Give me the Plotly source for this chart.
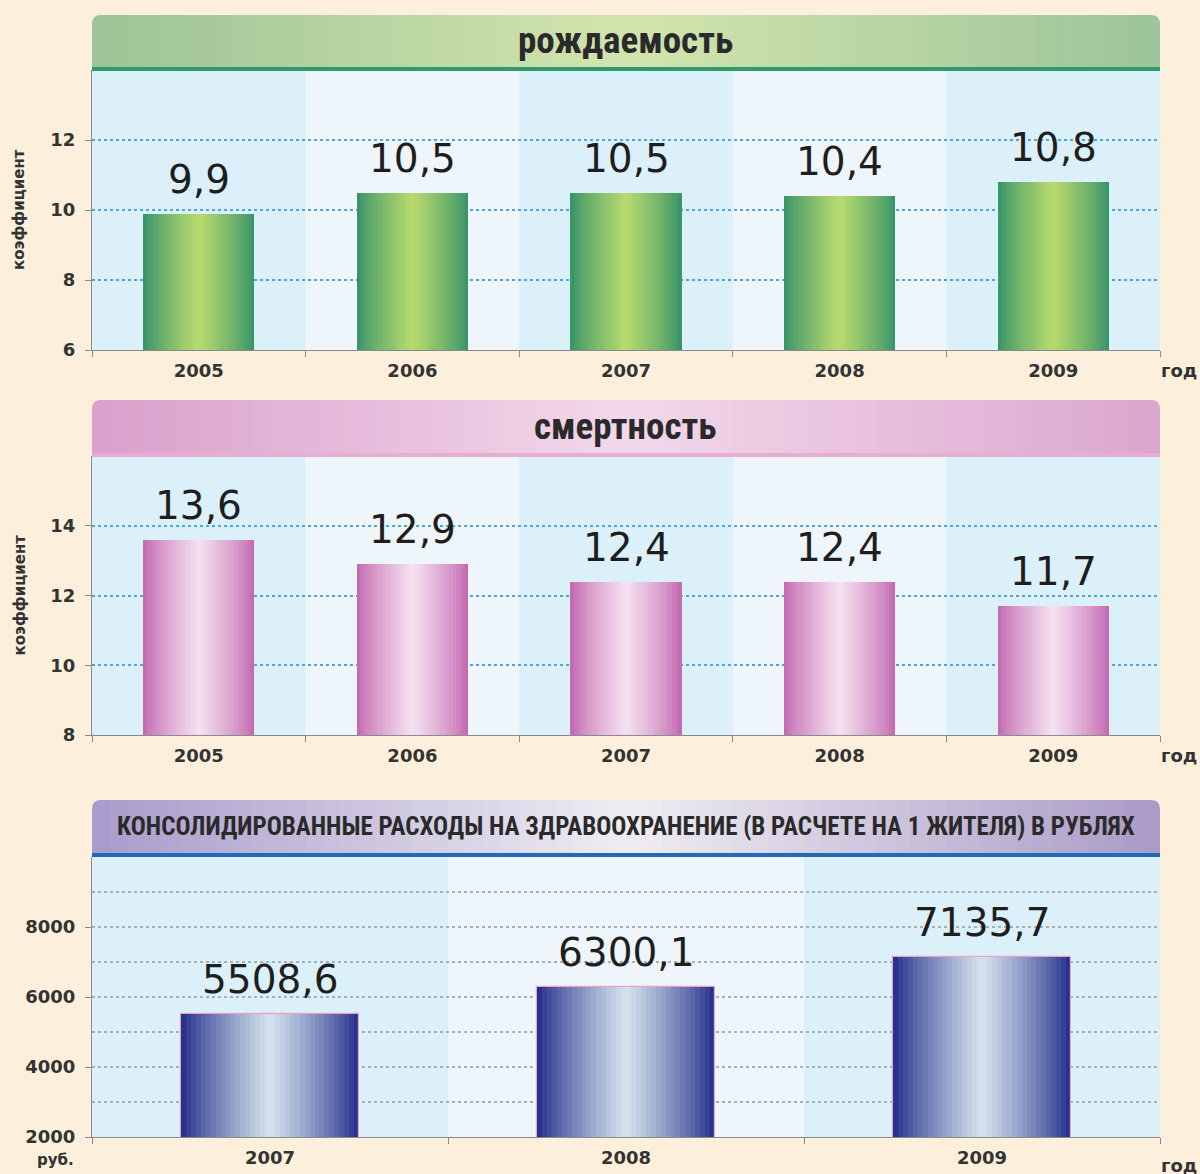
import plotly.graph_objects as go

# ---------------- data ----------------
birth_years = ["2005", "2006", "2007", "2008", "2009"]
birth_rate = [9.9, 10.5, 10.5, 10.4, 10.8]

death_years = ["2005", "2006", "2007", "2008", "2009"]
death_rate = [13.6, 12.9, 12.4, 12.4, 11.7]

spend_years = ["2007", "2008", "2009"]
spending = [5508.6, 6300.1, 7135.7]

titles = ["рождаемость", "смертность",
          "КОНСОЛИДИРОВАННЫЕ РАСХОДЫ НА ЗДРАВООХРАНЕНИЕ (В РАСЧЕТЕ НА 1 ЖИТЕЛЯ) В РУБЛЯХ"]
y_title = "коэффициент"
x_unit = "год"
y_unit3 = "руб."

# ---------------- helpers ----------------
W, H = 1200, 1174
FIG_H = 1184
BG = "#fcf0dc"


def px(x):
    return x / W


def py(y):
    return 1 - y / H


def hex2rgb(h):
    h = h.lstrip("#")
    return tuple(int(h[i:i + 2], 16) for i in (0, 2, 4))


def lerp(c1, c2, t):
    a, b = hex2rgb(c1), hex2rgb(c2)
    return "rgb(%d,%d,%d)" % tuple(round(a[i] + (b[i] - a[i]) * t) for i in range(3))


def fmt(v):
    return f"{v:.1f}".replace(".", ",")


fig = go.Figure()

PLOT_X0, PLOT_X1 = 92, 1160
panels = [
    dict(cats=birth_years, vals=birth_rate, ax="x", ay="y", top=70, bot=350,
         rng=[6, 14], tickvals=[6, 8, 10, 12], edge="#3a9569", center="#b6d96e",
         barw=0.52, grid="#4ba6df", hdr=(15, 67), hdr_cols=("#9cc396", "#d3e5ad", "#9cc49a"),
         line="#2f9a70", title_size=37),
    dict(cats=death_years, vals=death_rate, ax="x2", ay="y2", top=456, bot=735,
         rng=[8, 16], tickvals=[8, 10, 12, 14], edge="#c46cb2", center="#f4e0ef",
         barw=0.52, grid="#4ba6df", hdr=(400, 453), hdr_cols=("#d9a0cc", "#f3d8ea", "#dba6cf"),
         line="#e7aed2", title_size=37),
    dict(cats=spend_years, vals=spending, ax="x3", ay="y3", top=857, bot=1137,
         rng=[2000, 10000], tickvals=[2000, 4000, 6000, 8000], edge="#26328c", center="#d2dfeb",
         barw=0.5, grid="#a3b1b9", hdr=(800, 853), hdr_cols=("#a89bcb", "#efedf2", "#a99ac6"),
         line="#1e6cb8", title_size=25),
]

shapes = []
annotations = []
N = 18
for pi, p in enumerate(panels):
    n = len(p["cats"])
    # gradient bars as overlaid layers (edge -> center)
    for k in range(N):
        t = k / (N - 1)
        w = p["barw"] * (1 - k / N)
        col = lerp(p["edge"], p["center"], t ** 0.85)
        line = dict(width=0)
        if p["ax"] == "x3" and k == 0:
            line = dict(width=1.2, color="#eaa3c6")
        fig.add_trace(go.Bar(
            x=p["cats"], y=p["vals"], width=w, marker=dict(color=col, line=line),
            xaxis=p["ax"], yaxis=p["ay"], showlegend=False, hoverinfo="skip"))
    # value labels (x given as category index)
    for i, v in enumerate(p["vals"]):
        annotations.append(dict(
            x=i, y=v, xref=p["ax"], yref=p["ay"], text=fmt(v), showarrow=False,
            yanchor="bottom", yshift=10,
            font=dict(family="DejaVu Sans", size=39, color="#1e1e1e")))
    # column stripes
    for i in range(n):
        shapes.append(dict(
            type="rect", xref=p["ax"], yref=p["ay"] + " domain", x0=i - 0.5, x1=i + 0.5,
            y0=0, y1=1, layer="below", line=dict(width=0),
            fillcolor="#dcf0f9" if i % 2 == 0 else "#eef6fc"))
    # header gradient strips
    h0, h1 = p["hdr"]
    S = 60
    cl, cm, cr = p["hdr_cols"]
    for s in range(S):
        xa = PLOT_X0 + (PLOT_X1 - PLOT_X0) * s / S
        xb = PLOT_X0 + (PLOT_X1 - PLOT_X0) * (s + 1) / S + 0.6
        t = (s + 0.5) / S
        col = lerp(cl, cm, t * 2) if t < 0.5 else lerp(cm, cr, (t - 0.5) * 2)
        shapes.append(dict(type="rect", xref="paper", yref="paper",
                           x0=px(xa), x1=px(min(xb, PLOT_X1)), y0=py(h1), y1=py(h0),
                           line=dict(width=0), fillcolor=col, layer="above"))
    # rounded corner cutouts
    r = 9
    for (cx, sx) in ((PLOT_X0, 1), (PLOT_X1, -1)):
        path = (f"M {px(cx)},{py(h0)} L {px(cx + sx * r)},{py(h0)} "
                f"Q {px(cx)},{py(h0)} {px(cx)},{py(h0 + r)} Z")
        shapes.append(dict(type="path", xref="paper", yref="paper", path=path,
                           fillcolor=BG, line=dict(width=0), layer="above"))
    # header bottom line
    shapes.append(dict(type="rect", xref="paper", yref="paper",
                       x0=px(PLOT_X0), x1=px(PLOT_X1), y0=py(h1 + 4), y1=py(h1),
                       line=dict(width=0), fillcolor=p["line"], layer="above"))
    # title
    annotations.append(dict(
        x=px((PLOT_X0 + PLOT_X1) / 2), y=py((h0 + h1) / 2), xref="paper", yref="paper",
        text="<b>" + titles[pi] + "</b>", showarrow=False,
        xanchor="center", yanchor="middle",
        font=dict(family="Roboto Condensed, Liberation Sans Narrow, Roboto", size=p["title_size"],
                  color="#2a2a2a")))
    # "год" unit
    annotations.append(dict(
        x=px(1179), y=py(p["bot"] + 20 + (8 if pi == 2 else 0)), xref="paper", yref="paper",
        text="<b>" + x_unit + "</b>", showarrow=False, xanchor="center", yanchor="middle",
        font=dict(family="DejaVu Sans", size=18, color="#333333")))

# y titles
for p in panels[:2]:
    annotations.append(dict(
        x=px(19), y=py((p["top"] + p["bot"]) / 2), xref="paper", yref="paper",
        text="<b>" + y_title + "</b>", textangle=-90, showarrow=False,
        xanchor="center", yanchor="middle",
        font=dict(family="DejaVu Sans", size=15, color="#333333")))
annotations.append(dict(
    x=px(76), y=py(1160), xref="paper", yref="paper", text="<b>" + y_unit3 + "</b>",
    showarrow=False, xanchor="right", yanchor="middle",
    font=dict(family="DejaVu Sans", size=15, color="#333333")))

layout_axes = {}
for i, p in enumerate(panels):
    sfx = "" if i == 0 else str(i + 1)
    n = len(p["cats"])
    layout_axes["xaxis" + sfx] = dict(
        domain=[px(PLOT_X0), px(PLOT_X1)], anchor="y" + sfx, type="category",
        range=[-0.5, n - 0.5], categoryorder="array", categoryarray=p["cats"],
        showline=True, linecolor="#8a8a8a", linewidth=1.2, ticks="outside",
        tickson="boundaries", ticklen=6, tickcolor="#8a8a8a", showgrid=False,
        tickangle=0, ticklabelstandoff=4,
        tickfont=dict(family="DejaVu Sans", size=18, color="#333333"),
        tickprefix="<b>", ticksuffix="</b>", fixedrange=True)
    ydict = dict(
        domain=[py(p["bot"]), py(p["top"])], anchor="x" + sfx, range=p["rng"],
        tickvals=p["tickvals"], ticktext=["<b>%d</b>" % v for v in p["tickvals"]],
        showline=True, linecolor="#8a8a8a", linewidth=1.2, ticks="outside", ticklen=6,
        tickcolor="#8a8a8a", showgrid=True, gridcolor=p["grid"], griddash="dot",
        gridwidth=1.5, zeroline=False, ticklabelstandoff=6,
        tickfont=dict(family="DejaVu Sans", size=18, color="#333333"), fixedrange=True)
    if i == 2:
        ydict["minor"] = dict(dtick=1000, tick0=2000, showgrid=True, gridcolor=p["grid"],
                              griddash="dot", gridwidth=1.5)
    layout_axes["yaxis" + sfx] = ydict

fig.update_layout(
    width=W, height=FIG_H, margin=dict(l=0, r=0, t=0, b=0),
    paper_bgcolor=BG, plot_bgcolor="#e6f4fa", barmode="overlay", bargap=0,
    shapes=shapes, annotations=annotations, showlegend=False, **layout_axes)

post = ("document.body.style.margin='0';"
        "document.body.style.background='%s';" % BG)
fig.write_html("out.html", config={"displayModeBar": False}, post_script=post)
